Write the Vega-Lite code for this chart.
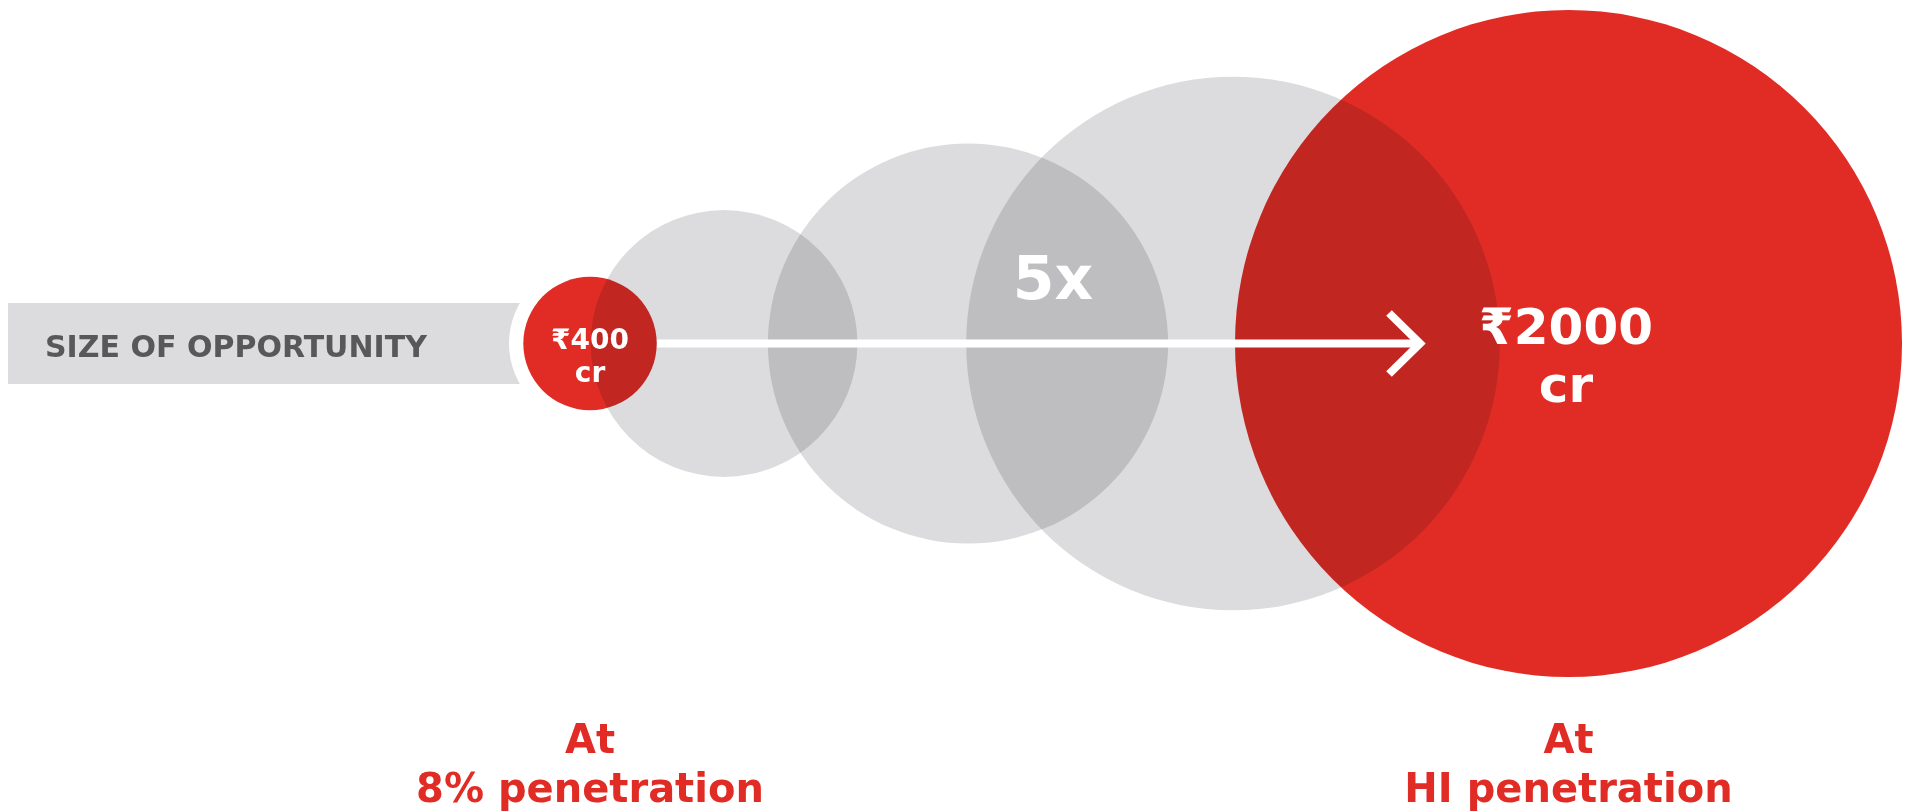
{
  "$schema": "https://vega.github.io/schema/vega-lite/v6.json",
  "width": 1906,
  "height": 811,
  "autosize": {"type": "fit", "contains": "padding"},
  "padding": 0,
  "background": "white",
  "config": {"view": {"stroke": null}, "text": {"font": "DejaVu Sans", "fontWeight": "bold"}},
  "datasets": {
    "circles": [
      {"stage": "8% penetration", "value": 400, "x": 590, "y": 343.5},
      {"stage": "step", "value": 800, "x": 724, "y": 343.5},
      {"stage": "step", "value": 1200, "x": 968, "y": 343.5},
      {"stage": "step", "value": 1600, "x": 1233, "y": 343.5},
      {"stage": "HI penetration", "value": 2000, "x": 1568.5, "y": 343.5}
    ]
  },
  "layer": [
    {
      "data": {"values": [{"x0": 8, "x1": 560, "y0": 303, "y1": 384}]},
      "mark": {"type": "rect", "color": "#dcdcde"},
      "encoding": {
        "x": {"field": "x0", "type": "quantitative", "scale": {"domain": [0, 1906], "nice": false, "zero": false}, "axis": null},
        "x2": {"field": "x1"},
        "y": {"field": "y0", "type": "quantitative", "scale": {"domain": [0, 811], "nice": false, "zero": false, "reverse": true}, "axis": null},
        "y2": {"field": "y1"}
      }
    },
    {
      "data": {"name": "circles"},
      "transform": [{"filter": "datum.value == 400"}],
      "mark": {"type": "point", "shape": "circle", "filled": true, "color": "white", "opacity": 1, "size": 26244, "strokeWidth": 0},
      "encoding": {
        "x": {"field": "x", "type": "quantitative"},
        "y": {"field": "y", "type": "quantitative"}
      }
    },
    {
      "data": {"name": "circles"},
      "mark": {"type": "point", "shape": "circle", "filled": true, "opacity": 1, "strokeWidth": 0, "blend": "multiply"},
      "encoding": {
        "x": {"field": "x", "type": "quantitative"},
        "y": {"field": "y", "type": "quantitative"},
        "size": {"field": "value", "type": "quantitative", "scale": {"type": "pow", "exponent": 2, "domain": [0, 2000], "range": [0, 444889]}, "legend": null},
        "color": {"field": "stage", "type": "nominal", "scale": {"domain": ["8% penetration", "step", "HI penetration"], "range": ["#e12c26", "#dcdcde", "#e12c26"]}, "legend": null}
      }
    },
    {
      "data": {"values": [{"x0": 657, "x1": 1420, "y": 343.5}]},
      "mark": {"type": "rule", "color": "white", "strokeWidth": 8, "strokeCap": "butt"},
      "encoding": {
        "x": {"field": "x0", "type": "quantitative"},
        "x2": {"field": "x1"},
        "y": {"field": "y", "type": "quantitative"}
      }
    },
    {
      "data": {"values": [{"x": 1389, "y": 313, "o": 0}, {"x": 1420, "y": 343.5, "o": 1}, {"x": 1389, "y": 374, "o": 2}]},
      "mark": {"type": "line", "color": "white", "strokeWidth": 8, "strokeCap": "butt", "strokeJoin": "miter"},
      "encoding": {
        "x": {"field": "x", "type": "quantitative"},
        "y": {"field": "y", "type": "quantitative"},
        "order": {"field": "o", "type": "quantitative"}
      }
    },
    {
      "data": {"values": [{"t": "SIZE OF OPPORTUNITY", "x": 45, "y": 357}]},
      "mark": {"type": "text", "align": "left", "baseline": "alphabetic", "fontSize": 30, "color": "#58585a"},
      "encoding": {
        "x": {"field": "x", "type": "quantitative"},
        "y": {"field": "y", "type": "quantitative"},
        "text": {"field": "t"}
      }
    },
    {
      "data": {"values": [{"t": "₹400\ncr", "x": 590, "y": 349}]},
      "mark": {"type": "text", "align": "center", "baseline": "alphabetic", "fontSize": 28, "lineBreak": "\n", "lineHeight": 33, "color": "white"},
      "encoding": {
        "x": {"field": "x", "type": "quantitative"},
        "y": {"field": "y", "type": "quantitative"},
        "text": {"field": "t"}
      }
    },
    {
      "data": {"values": [{"t": "₹2000\ncr", "x": 1566, "y": 344}]},
      "mark": {"type": "text", "align": "center", "baseline": "alphabetic", "fontSize": 50, "lineBreak": "\n", "lineHeight": 58, "color": "white"},
      "encoding": {
        "x": {"field": "x", "type": "quantitative"},
        "y": {"field": "y", "type": "quantitative"},
        "text": {"field": "t"}
      }
    },
    {
      "data": {"values": [{"t": "5x", "x": 1053, "y": 299}]},
      "mark": {"type": "text", "align": "center", "baseline": "alphabetic", "fontSize": 60, "color": "white"},
      "encoding": {
        "x": {"field": "x", "type": "quantitative"},
        "y": {"field": "y", "type": "quantitative"},
        "text": {"field": "t"}
      }
    },
    {
      "data": {"values": [
        {"t": "At", "x": 590, "y": 753},
        {"t": "8% penetration", "x": 590, "y": 802},
        {"t": "At", "x": 1568.5, "y": 753},
        {"t": "HI penetration", "x": 1568.5, "y": 802}
      ]},
      "mark": {"type": "text", "align": "center", "baseline": "alphabetic", "fontSize": 40, "color": "#e12c26"},
      "encoding": {
        "x": {"field": "x", "type": "quantitative"},
        "y": {"field": "y", "type": "quantitative"},
        "text": {"field": "t"}
      }
    }
  ]
}
